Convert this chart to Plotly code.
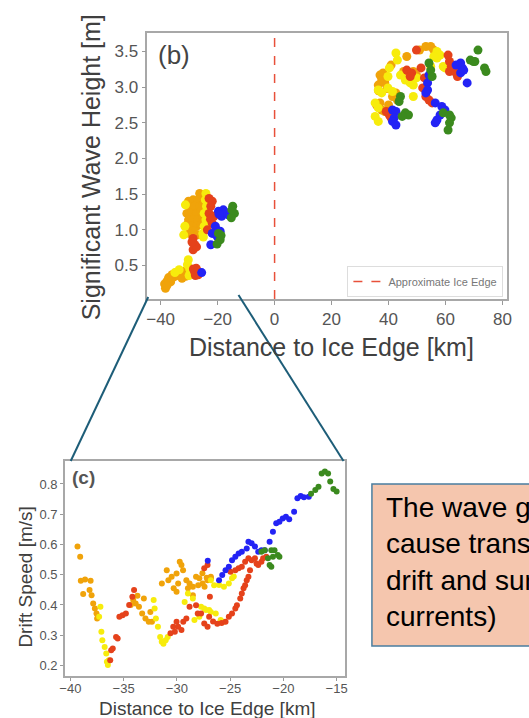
import plotly.graph_objects as go

W, H = 529, 718

# ---------------- Panel (b): significant wave height vs distance ----------------
B_ORANGE_X = [-38.3, -38.6, -37.8, -37.2, -36.0, -34.5, -33.0, -32.0, -31.0, -35.3, -36.5, -33.8, -32.5, -31.5, -37.8,
              -26.3, -25.5, -30.2, -28.6, -26.9, -29.7, -28.0, -26.3, -25.2, -30.8, -29.1, -27.4, -25.8, -30.2, -28.6,
              -26.9, -25.2, -30.8, -29.1, -27.4, -25.8, -28.6, -30.0, -27.0,
              50.9, 53.1, 54.8, 55.9, 46.4, 40.9, 37.0, 38.1, 37.6, 36.4, 38.7, 39.2, 42.6, 41.4, 43.1, 45.3, 48.7,
              49.8, 37.0, 37.6, 38.7, 35.8, 36.5, 39.5, 40.0]
B_ORANGE_Y = [0.18, 0.24, 0.28, 0.33, 0.37, 0.40, 0.41, 0.38, 0.35, 0.34, 0.27, 0.36, 0.32, 0.42, 0.22,
              1.51, 1.49, 1.40, 1.42, 1.42, 1.33, 1.33, 1.33, 1.35, 1.23, 1.23, 1.23, 1.26, 1.14, 1.14,
              1.14, 1.16, 1.07, 1.05, 1.05, 1.07, 0.98, 0.95, 0.93,
              3.52, 3.57, 3.57, 3.52, 3.43, 3.31, 3.17, 3.20, 3.10, 3.03, 3.06, 3.15, 2.92, 2.87, 2.82, 3.22, 3.22,
              3.17, 2.78, 2.68, 2.66, 2.75, 2.95, 2.98, 2.75]

B_YELLOW_X = [-30.3, -30.6, -29.8, -29.5, -33.5, -35.0, -30.0,
              -24.1, -24.3, -23.9, -24.7, -24.1, -24.7, -25.2, -31.3, -31.9, -31.5, -25.0,
              57.0, 58.1, 57.0, 55.9, 42.6, 43.1, 40.3, 39.8, 36.4, 37.6, 39.8, 41.4, 35.3, 36.4, 35.3, 36.4,
              44.2, 45.9, 47.6, 48.7, 49.8, 48.7, 59.8, 59.2, 54.8]
B_YELLOW_Y = [0.58, 0.51, 0.45, 0.40, 0.44, 0.40, 0.36,
              1.51, 1.42, 1.33, 1.23, 1.14, 1.05, 0.95, 1.35, 0.93, 1.05, 0.90,
              3.50, 3.45, 3.41, 3.43, 3.48, 3.38, 3.27, 3.15, 2.96, 2.92, 2.99, 2.94, 2.78, 2.71, 2.59, 2.52,
              3.17, 3.10, 3.06, 3.03, 3.13, 2.87, 3.27, 3.29, 3.29]

B_RED_X = [-28.5, -27.5, -28.0, -27.0, -27.8, -26.8,
           -23.0, -21.9, -22.4, -23.0, -21.3, -21.9, -23.6, -22.5, -28.6, -28.0, -28.6, -27.4, -29.0,
           49.8, 46.4, 48.1, 47.6, 51.4, 52.6, 52.0, 53.1, 54.2, 55.3, 39.2, 40.3, 40.9,
           61.4, 62.0, 63.1, 61.4, 63.7, 64.2, 60.9]
B_RED_Y = [0.45, 0.46, 0.40, 0.42, 0.36, 0.37,
           1.44, 1.40, 1.33, 1.23, 1.19, 1.09, 1.00, 1.15, 0.88, 0.79, 0.72, 0.76, 0.83,
           3.52, 3.24, 3.20, 3.15, 3.27, 3.13, 2.99, 2.87, 2.82, 2.78, 2.66, 2.61, 2.57,
           3.36, 3.29, 3.24, 3.22, 3.20, 3.15, 3.45]

B_BLUE_X = [-25.6,
            -19.7, -18.0, -16.9, -18.6, -16.3, -17.5, -19.5, -20.8, -19.1, -21.9, -20.2, -22.4,
            54.2, 53.7, 53.7, 53.1, 41.4, 42.6, 42.0, 41.4, 42.6, 56.4, 58.7, 59.8, 58.1, 57.0, 56.4,
            63.7, 65.3, 65.9, 65.3, 66.4, 67.6]
B_BLUE_Y = [0.40,
            1.26, 1.28, 1.23, 1.19, 1.21, 1.25, 1.22, 1.05, 0.98, 0.95, 0.91, 0.79,
            3.17, 3.06, 2.96, 2.92, 2.68, 2.66, 2.57, 2.52, 2.47, 2.78, 2.73, 2.68, 2.61, 2.54, 2.50,
            3.31, 3.34, 3.27, 3.20, 3.24, 3.06]

B_GREEN_X = [-14.7, -14.1, -15.2, -15.0, -19.7, -19.1, -20.2, -18.8,
             54.2, 54.8, 55.3, 44.2, 43.7, 45.9, 47.0, 44.8, 59.2, 61.4, 62.0, 61.4, 60.9,
             68.7, 70.3, 71.4, 73.7, 74.2, 69.8]
B_GREEN_Y = [1.33, 1.23, 1.17, 1.28, 0.95, 0.86, 0.80, 0.92,
             3.34, 3.24, 3.15, 2.87, 2.80, 2.64, 2.61, 2.59, 2.64, 2.61, 2.57, 2.50, 2.40,
             3.38, 3.36, 3.52, 3.27, 3.22, 3.36]

B_XTICKS = [-40, -20, 0, 20, 40, 60, 80]
B_YTICKS = [0.5, 1.0, 1.5, 2.0, 2.5, 3.0, 3.5]
ICE_EDGE_X = 0

# ---------------- Panel (c): drift speed vs distance ----------------
C_ORANGE_X = [-39.33, -39.08, -39.02, -38.62, -38.10, -38.80, -38.20, -38.01, -37.86, -37.70, -37.55, -37.49,
              -34.33, -34.10, -33.87, -33.56, -33.26, -32.95, -32.64, -32.34, -32.49, -33.10, -33.70,
              -31.41, -30.95, -30.49, -30.03, -29.73, -29.57, -29.42, -29.88, -29.11, -28.81, -28.50, -28.96,
              -28.20, -27.89, -27.58, -27.12, -26.81, -30.03, -30.80, -30.30, -28.50, -28.00, -27.40, -27.60,
              -27.20, -26.80]
C_ORANGE_Y = [0.593, 0.559, 0.480, 0.484, 0.480, 0.436, 0.449, 0.432, 0.405, 0.388, 0.372, 0.355,
              0.400, 0.416, 0.405, 0.394, 0.372, 0.355, 0.344, 0.344, 0.377, 0.421, 0.430,
              0.471, 0.515, 0.493, 0.504, 0.543, 0.532, 0.515, 0.471, 0.482, 0.471, 0.460, 0.455,
              0.493, 0.488, 0.471, 0.482, 0.493, 0.444, 0.482, 0.455, 0.432, 0.465, 0.460, 0.505,
              0.490, 0.488]

C_YELLOW_X = [-37.30, -37.18, -37.09, -37.00, -36.78, -36.63, -36.57, -36.48, -36.39,
              -32.18, -32.09, -31.97, -31.78, -31.57, -31.42, -31.26, -31.05, -30.86,
              -28.96, -28.50, -29.27, -28.35, -27.89, -27.43, -26.97,
              -27.73, -27.27, -26.81, -26.35, -25.89, -25.60,
              -26.81, -26.50, -26.04, -25.58, -25.12, -24.82, -24.66]
C_YELLOW_Y = [0.361, 0.394, 0.311, 0.283, 0.261, 0.239, 0.212, 0.201, 0.217,
              0.416, 0.388, 0.355, 0.328, 0.294, 0.278, 0.272, 0.283, 0.294,
              0.438, 0.421, 0.410, 0.350, 0.361, 0.388, 0.383,
              0.394, 0.383, 0.377, 0.372, 0.350, 0.344,
              0.482, 0.465, 0.466, 0.460, 0.471, 0.488, 0.494]

C_RED_X = [-36.26, -36.17, -36.02, -35.71, -35.56, -35.40, -35.10, -34.79, -34.48, -34.18, -34.02,
           -30.34, -30.03, -29.88, -29.57, -30.19, -29.11, -28.81, -28.20, -28.04, -27.73, -27.43, -27.12,
           -26.97, -30.60, -29.40, -26.60, -26.20, -25.80, -26.90,
           -27.43, -27.12,
           -25.43, -25.12, -24.82, -24.51, -24.36, -24.05, -23.90, -23.74, -23.59, -23.44, -23.28, -23.13,
           -24.97, -24.51, -24.20, -23.90, -23.59, -23.28, -22.98, -22.67, -22.52, -22.36, -22.06, -21.90,
           -21.60]
C_RED_Y = [0.217, 0.250, 0.256, 0.294, 0.289, 0.361, 0.366, 0.372, 0.400, 0.427, 0.449,
           0.328, 0.344, 0.328, 0.317, 0.311, 0.355, 0.394, 0.399, 0.372, 0.372, 0.339, 0.328,
           0.361, 0.306, 0.344, 0.345, 0.338, 0.340, 0.427,
           0.521, 0.532,
           0.344, 0.361, 0.372, 0.388, 0.399, 0.421, 0.438, 0.455, 0.465, 0.482, 0.493, 0.515,
           0.510, 0.515, 0.521, 0.526, 0.543, 0.554, 0.548, 0.554, 0.537, 0.532, 0.543, 0.554,
           0.559]

C_BLUE_X = [-27.10, -26.04, -25.74, -25.43, -25.12, -24.82, -24.51, -24.20, -23.90, -23.44, -23.28, -22.98,
            -22.67, -22.36, -22.06, -21.75, -21.29, -20.98, -20.67, -20.37, -20.06, -19.76, -19.45, -18.99,
            -18.68, -18.37, -18.07, -17.61]
C_BLUE_Y = [0.546, 0.482, 0.499, 0.515, 0.526, 0.548, 0.559, 0.570, 0.576, 0.587, 0.609, 0.604,
            0.593, 0.576, 0.581, 0.581, 0.609, 0.642, 0.670, 0.675, 0.686, 0.692, 0.683, 0.708,
            0.753, 0.760, 0.756, 0.758]

C_GREEN_X = [-22.06, -21.75, -21.13, -20.83, -20.52, -20.98, -21.44, -21.29, -21.13, -20.37,
             -17.40, -17.00, -16.70, -16.40, -16.10, -15.80, -15.60, -15.30, -15.00]
C_GREEN_Y = [0.576, 0.581, 0.581, 0.581, 0.565, 0.559, 0.554, 0.532, 0.526, 0.559,
             0.768, 0.780, 0.791, 0.835, 0.841, 0.835, 0.808, 0.783, 0.775]

C_XTICKS = [-40, -35, -30, -25, -20, -15]
C_YTICKS = [0.2, 0.3, 0.4, 0.5, 0.6, 0.7, 0.8]

COLORS = {"orange": "#f0a30a", "yellow": "#f7ec0c", "red": "#e5421b", "blue": "#2323f5", "green": "#3b8a1e"}

FONT = "Liberation Sans, Arial, sans-serif"


def px(x):
    return x / W


def py(y):
    return 1 - y / H


fig = go.Figure()

b_series = [("orange", B_ORANGE_X, B_ORANGE_Y), ("yellow", B_YELLOW_X, B_YELLOW_Y), ("red", B_RED_X, B_RED_Y),
            ("blue", B_BLUE_X, B_BLUE_Y), ("green", B_GREEN_X, B_GREEN_Y)]
for name, xs, ys in b_series:
    fig.add_trace(go.Scatter(x=xs, y=ys, mode="markers", xaxis="x", yaxis="y", showlegend=False,
                             marker=dict(size=9, color=COLORS[name], line=dict(width=0)), hoverinfo="skip"))

c_series = [("orange", C_ORANGE_X, C_ORANGE_Y), ("yellow", C_YELLOW_X, C_YELLOW_Y), ("red", C_RED_X, C_RED_Y),
            ("blue", C_BLUE_X, C_BLUE_Y), ("green", C_GREEN_X, C_GREEN_Y)]
for name, xs, ys in c_series:
    fig.add_trace(go.Scatter(x=xs, y=ys, mode="markers", xaxis="x2", yaxis="y2", showlegend=False,
                             marker=dict(size=6, color=COLORS[name], line=dict(width=0)), hoverinfo="skip"))

# ice edge line with legend entry
fig.add_shape(type="line", xref="x", yref="y domain", x0=ICE_EDGE_X, x1=ICE_EDGE_X, y0=0, y1=1,
              line=dict(color="#e8503a", width=1.5, dash="dash"), showlegend=True, name="Approximate Ice Edge",
              layer="below")

axis_common = dict(showline=True, mirror=True, linecolor="#a8a8a8", linewidth=1.5, showgrid=False,
                   zeroline=False, ticks="outside", tickcolor="#999999")

fig.update_layout(
    width=W, height=H, margin=dict(l=0, r=0, t=0, b=0),
    paper_bgcolor="white", plot_bgcolor="white",
    font=dict(family=FONT, color="#555555"),
    xaxis=dict(domain=[px(145), px(512)], range=[-44.7, 81.7], tickvals=B_XTICKS, ticklen=4,
               tickfont=dict(size=17, color="#555555"), anchor="y", **axis_common),
    yaxis=dict(domain=[py(299), py(33)], range=[0.03, 3.76], tickvals=B_YTICKS, tickformat=".1f", ticklen=4,
               tickfont=dict(size=17, color="#555555"), anchor="x", **axis_common),
    xaxis2=dict(domain=[px(61), px(347)], range=[-40.52, -14.17], tickvals=C_XTICKS, ticklen=3,
                ticklabelstandoff=-3,
                tickfont=dict(size=13, color="#555555"), anchor="y2", **axis_common),
    yaxis2=dict(domain=[py(676), py(461)], range=[0.165, 0.876], tickvals=C_YTICKS, tickformat=".1f", ticklen=3,
                tickfont=dict(size=13, color="#555555"), anchor="x2", **axis_common),
    legend=dict(x=px(508), y=py(297), xanchor="right", yanchor="bottom", bgcolor="white",
                bordercolor="#dddddd", borderwidth=1, font=dict(size=11, color="#777777"),
                itemwidth=30),
)

annotations = [
    dict(text="Significant Wave Height [m]", x=px(88), y=py(167), textangle=-90,
         font=dict(size=25, color="#404040")),
    dict(text="Distance to Ice Edge [km]", x=px(333), y=py(347), font=dict(size=25, color="#404040")),
    dict(text="(b)", x=px(172), y=py(55), font=dict(size=26, color="#444444")),
    dict(text="Drift Speed [m/s]", x=px(20), y=py(577), textangle=-90, font=dict(size=19, color="#404040")),
    dict(text="Distance to Ice Edge [km]", x=px(206), y=py(708), font=dict(size=19, color="#404040")),
    dict(text="<b>(c)</b>", x=px(80), y=py(477), font=dict(size=19, color="#555555")),
    dict(text="The wave groups<br>cause transport (Stokes<br>drift and surface<br>currents)",
         x=px(386), y=py(562), xanchor="left", align="left",
         font=dict(size=28, color="#000000", family=FONT)),
]
for a in annotations:
    a.setdefault("xanchor", "center")
    a.update(xref="paper", yref="paper", showarrow=False, yanchor="middle")
    fig.add_annotation(**a)

# zoom connector lines
LINE_COLOR = "#1d5d78"
fig.add_shape(type="line", xref="paper", yref="paper", x0=px(146), y0=py(297), x1=px(67), y1=py(461),
              line=dict(color=LINE_COLOR, width=2))
fig.add_shape(type="line", xref="paper", yref="paper", x0=px(238), y0=py(295), x1=px(345), y1=py(461),
              line=dict(color=LINE_COLOR, width=2))

# text box
fig.add_shape(type="rect", xref="paper", yref="paper", x0=px(374), x1=px(620), y0=py(646), y1=py(484),
              fillcolor="#f5c6ae", line=dict(color="#4a7ea0", width=1.5), layer="below")

fig.write_html("out.html", config={"displayModeBar": False},
               post_script="document.body.style.margin='0px';document.body.style.overflow='hidden';")
